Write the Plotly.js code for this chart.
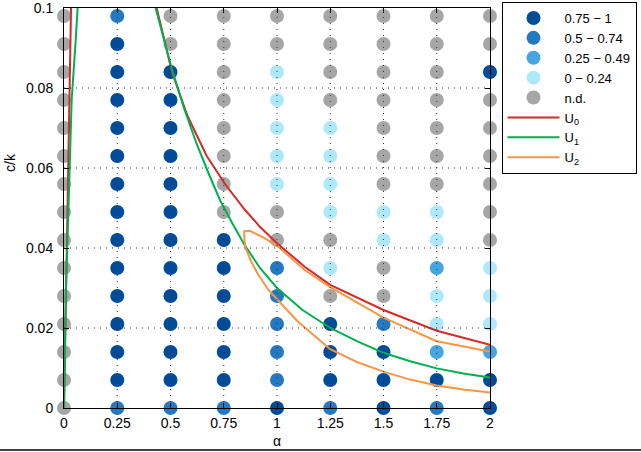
<!DOCTYPE html>
<html>
<head>
<meta charset="utf-8">
<script src="https://cdn.plot.ly/plotly-3.0.1.min.js"></script>
<style>
  html, body { margin: 0; padding: 0; background: #fff; }
  #chart { width: 641px; height: 452px; position: relative; }
  #frame { position: absolute; left: 0; top: 449px; width: 641px; height: 2px; background: #444; }
</style>
</head>
<body>
<div id="chart"></div>
<div id="frame"></div>
<script>
// ---- data ----
const alpha = [0, 0.25, 0.5, 0.75, 1, 1.25, 1.5, 1.75, 2];
const ckLevels = [0, 0.007, 0.014, 0.021, 0.028, 0.035, 0.042, 0.049, 0.056, 0.063, 0.07, 0.077, 0.084, 0.091, 0.098];
// class of each point, one string per alpha column, from c/k = 0 upward
// A: 0.75-1, B: 0.5-0.74, C: 0.25-0.49, D: 0-0.24, N: n.d.
const classGrid = [
  "NNNNNNNNNNNNNNN",
  "BAAAAAAAAAAAAAB",
  "BAAAAAAAAAAAANN",
  "BAAAAAANNNNNNNN",
  "ABBBBBNNDDDDDNN",
  "BAAANDNDDDDNNNN",
  "AAABNNDDNNNNNNN",
  "BACDDCDDNNNNNNN",
  "AACDDDNNNNNNANN"
];
const classCodes = ["A", "B", "C", "D", "N"];
const classNames = ["0.75 \u2212 1", "0.5 \u2212 0.74", "0.25 \u2212 0.49", "0 \u2212 0.24", "n.d."];
const classColors = ["#004c99", "#2479c1", "#45a5e0", "#aee9fb", "#a6a6a6"];

const U0_alpha = [0, 0.006, 0.013, 0.022, 0.033, null, 0.435, 0.47, 0.507, 0.58, 0.67, 0.756, 0.85, 0.92, 1.0, 1.13, 1.25, 1.5, 1.75, 2];
const U0_ck    = [0, 0.02, 0.045, 0.07, 0.1, null, 0.1, 0.092, 0.084, 0.073, 0.063, 0.056, 0.0495, 0.0453, 0.0412, 0.0353, 0.0308, 0.0245, 0.0193, 0.0158];
const U1_alpha = [0, 0.004, 0.009, 0.021, 0.036, 0.055, 0.064, null, 0.43, 0.47, 0.505, 0.56, 0.623, 0.68, 0.732, 0.79, 0.845, 0.92, 1.0, 1.12, 1.25, 1.375, 1.5, 1.625, 1.75, 1.875, 2];
const U1_ck    = [0, 0.01, 0.03, 0.05, 0.077, 0.092, 0.1, null, 0.1, 0.092, 0.085, 0.0755, 0.066, 0.0585, 0.052, 0.0462, 0.041, 0.035, 0.030, 0.0245, 0.020, 0.0167, 0.0138, 0.0117, 0.0099, 0.0086, 0.0076];
const U2_alpha = [2, 1.75, 1.5, 1.25, 1.13, 1.006, 0.944, 0.9, 0.873, 0.846, 0.847, 0.853, 0.88, 0.912, 0.96, 1.0, 1.1, 1.25, 1.375, 1.5, 1.625, 1.75, 1.875, 2];
const U2_ck    = [0.0141, 0.0167, 0.0226, 0.0302, 0.0345, 0.0403, 0.0424, 0.0437, 0.0443, 0.0442, 0.042, 0.0399, 0.0365, 0.0333, 0.0295, 0.0272, 0.0215, 0.0147, 0.0115, 0.0091, 0.0071, 0.0056, 0.0046, 0.0039];

const xTicks = [0, 0.25, 0.5, 0.75, 1, 1.25, 1.5, 1.75, 2];
const yTicks = [0, 0.02, 0.04, 0.06, 0.08, 0.1];

// ---- traces ----
const FONT = "Liberation Sans, Arial, Helvetica, sans-serif";
const traces = [];
classCodes.forEach((code, k) => {
  const xs = [], ys = [];
  alpha.forEach((a, i) => {
    ckLevels.forEach((c, j) => {
      if (classGrid[i][j] === code) { xs.push(a); ys.push(c); }
    });
  });
  traces.push({
    type: "scatter", mode: "markers", x: xs, y: ys, name: classNames[k],
    marker: { color: classColors[k], size: 14, line: { width: 0 } },
    cliponaxis: false, hoverinfo: "skip"
  });
});
const lines = [
  { x: U0_alpha, y: U0_ck, name: "U<sub>0</sub>", color: "#d42a2a" },
  { x: U1_alpha, y: U1_ck, name: "U<sub>1</sub>", color: "#00b050" },
  { x: U2_alpha, y: U2_ck, name: "U<sub>2</sub>", color: "#f79646" }
];
lines.forEach(l => traces.push({
  type: "scatter", mode: "lines", x: l.x, y: l.y, name: l.name,
  line: { color: l.color, width: 2 }, connectgaps: false, hoverinfo: "skip"
}));

// ---- grid (drawn above the points, as in the reference) ----
const gridLine = { color: "#333", width: 1, dash: "1px,5px" };
const shapes = [];
xTicks.slice(1, -1).forEach(v => shapes.push({ type: "line", xref: "x", yref: "paper", x0: v, x1: v, y0: 0, y1: 1, line: gridLine, layer: "above" }));
yTicks.slice(1, -1).forEach(v => shapes.push({ type: "line", xref: "paper", yref: "y", x0: 0, x1: 1, y0: v, y1: v, line: gridLine, layer: "above" }));

const axisCommon = {
  showline: true, linecolor: "#000", linewidth: 1, mirror: "ticks",
  ticks: "inside", ticklen: 5, tickcolor: "#000", tickwidth: 1,
  showgrid: false, zeroline: false, ticklabeloverflow: "allow",
  tickfont: { family: FONT, size: 14, color: "#000" }
};

const layout = {
  width: 641, height: 452,
  margin: { l: 64, r: 151, t: 8, b: 44, autoexpand: false },
  paper_bgcolor: "#fff", plot_bgcolor: "#fff",
  font: { family: FONT, size: 13, color: "#000" },
  xaxis: Object.assign({}, axisCommon, {
    range: [0, 2], tickvals: xTicks, ticktext: xTicks.map(String),
    ticklabelstandoff: 2,
    title: { text: "\u03b1", font: { family: FONT, size: 14 }, standoff: 6 }
  }),
  yaxis: Object.assign({}, axisCommon, {
    range: [0, 0.1], tickvals: yTicks, ticktext: yTicks.map(String),
    ticklabelstandoff: 7,
    title: { text: "" }
  }),
  annotations: [{
    text: "c/k", textangle: -90, xref: "paper", yref: "paper",
    x: -0.127, y: 0.615, xanchor: "center", yanchor: "middle", showarrow: false,
    font: { family: FONT, size: 14, color: "#000" }
  }],
  showlegend: true,
  legend: {
    x: 1.027, y: 1.015, xanchor: "left", yanchor: "top",
    bordercolor: "#000", borderwidth: 1, bgcolor: "#fff",
    font: { family: FONT, size: 13, color: "#000" },
    itemwidth: 52, tracegroupgap: 0
  },
  shapes: shapes
};

Plotly.newPlot("chart", traces, layout, { displayModeBar: false, staticPlot: true });
</script>
</body>
</html>
